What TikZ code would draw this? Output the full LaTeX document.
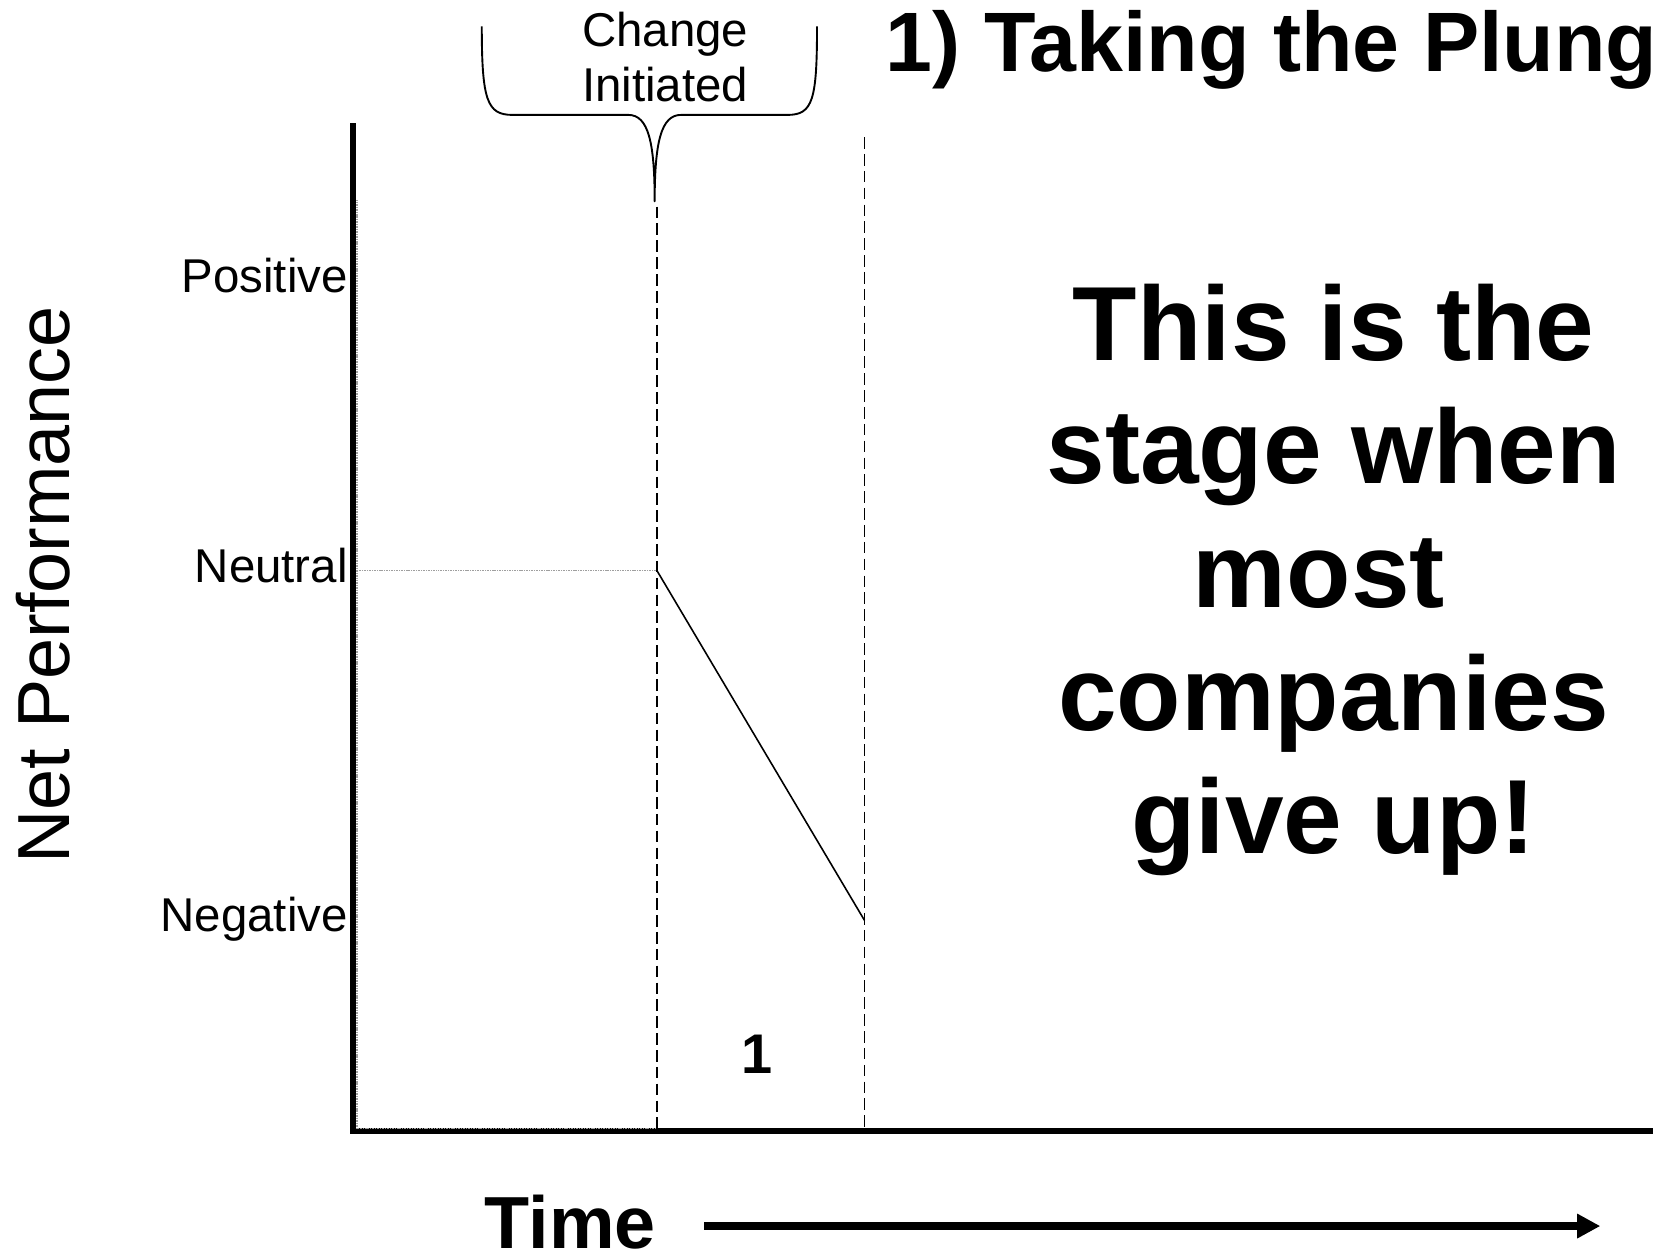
\documentclass[tikz,border=0pt]{standalone}
\usepackage{fontspec}
\setmainfont{Liberation Sans}
\usetikzlibrary{arrows.meta}
\tikzset{
  lbl/.style={inner sep=0pt, font=\fontsize{45}{52}\selectfont},
  big/.style={inner sep=0pt, anchor=base, font=\fontsize{100}{117}\selectfont\bfseries},
  axis/.style={line width=5.5pt, black},
  guide/.style={gray!75, line width=1.4pt, dash pattern=on 1pt off 0.6pt},
  phase/.style={line width=1.5pt, dash pattern=on 11pt off 5pt},
  brace/.style={line width=1.8pt, line join=round},
}
\begin{document}
\begin{tikzpicture}[x=1pt,y=-1pt]
\useasboundingbox (0,0) rectangle (1568,1190);
\clip (0,0) rectangle (1568,1190);

% key points
\coordinate (ytop) at (335,117);
\coordinate (orig) at (335,1073);
\coordinate (xend) at (1570,1073);
\coordinate (tip) at (621,191);
\coordinate (d1top) at (623,196);
\coordinate (d1bot) at (623,1073);
\coordinate (d2top) at (820,130);
\coordinate (d2bot) at (820,1073);
\coordinate (ci) at (623,541);
\coordinate (neg) at (820,873);

% axes
\draw[axis] (ytop) -- (orig |- xend);
\draw[axis] ([xshift=-2.75pt]orig) -- (xend);

% faint guide lines
\draw[guide] (338.5,190) -- (338.5,1070.5) -- (623,1070.5);
\draw[guide, line width=1pt] (338.5,541) -- (ci);

% phase dashed lines
\draw[phase] (d1top) -- (d1bot);
\draw[phase] (d2top) -- (d2bot);

% performance line
\draw[line width=1.5pt] (ci) -- (neg);

% brace
\draw[brace] (457,25) .. controls (457,95) and (462,109) .. (486,109)
  -- (596,109) .. controls (615,109) and (621,135) .. (tip)
  .. controls (621,135) and (627,109) .. (646,109)
  -- (747,109) .. controls (771,109) and (775,95) .. (775,25);

% labels
\node[lbl, anchor=base] (ch1) at (631,44) {Change};
\node[lbl, anchor=base] (ch2) at (631,96) {Initiated};

\node[lbl, anchor=base east] (pos) at (330,277) {Positive};
\node[lbl, anchor=base east] (neu) at (330,553) {Neutral};
\node[lbl, anchor=base east] (ngt) at (330,884) {Negative};

\node[inner sep=0pt, anchor=base, rotate=90, font=\fontsize{70}{80}\selectfont] (np) at (66,555) {Net Performance};

\node[inner sep=0pt, anchor=base west, font=\fontsize{80}{90}\selectfont\bfseries] (title) at (840,68) {1) Taking the Plunge};

\node[inner sep=0pt, anchor=base, font=\fontsize{53}{60}\selectfont\bfseries] (one) at (718,1018) {1};

\node[big] (b1) at (1265,342) {This is the};
\node[big] (b2) at (1265,459) {stage when};
\node[big] (b3) at (1265,576) {most\kern0.28em};
\node[big] (b4) at (1265,693) {companies};
\node[big] (b5) at (1265,810) {give up!};

\node[inner sep=0pt, anchor=base, font=\fontsize{70}{75}\selectfont\bfseries] (time) at (541,1184) {Time};
\coordinate (arrS) at (668,1163);
\coordinate (arrE) at (1518,1163);
\draw[line width=7.5pt, -{Triangle[length=22pt,width=22pt]}] (arrS) -- (arrE);
\end{tikzpicture}
\end{document}
